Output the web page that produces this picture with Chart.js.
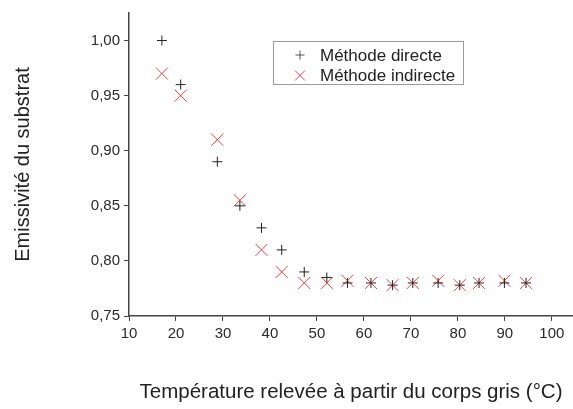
<!DOCTYPE html>
<html>
<head>
<meta charset="utf-8">
<script src="https://cdn.jsdelivr.net/npm/chart.js@4.4.0/dist/chart.umd.min.js"></script>
<style>
  body { margin: 0; background: #fff; }
  canvas { display: block; }
</style>
</head>
<body>
<canvas id="emissChart" width="573" height="409"></canvas>
<script>
// Température du corps gris (°C)
let temperatures = [17.0, 21.0, 28.8, 33.6, 38.2, 42.5, 47.3, 52.1, 56.5, 61.5, 66.1, 70.4, 75.8, 80.4, 84.5, 89.9, 94.5];
// Emissivité mesurée
let directe = [1.00, 0.96, 0.89, 0.85, 0.83, 0.81, 0.79, 0.785, 0.78, 0.78, 0.778, 0.78, 0.78, 0.778, 0.78, 0.78, 0.78];
let indirecte = [0.97, 0.95, 0.91, 0.855, 0.81, 0.79, 0.78, 0.78, 0.782, 0.78, 0.778, 0.78, 0.782, 0.778, 0.78, 0.782, 0.78];
let seriesNames = ['Méthode directe', 'Méthode indirecte'];

let redColor = 'rgb(232,64,64)';
let axisColor = '#444';

function toPoints(values) {
  return values.map(function (v, i) {
    return { x: temperatures[i], y: v };
  });
}

// legend box drawn inside the plot
let boxLegend = {
  id: 'boxLegend',
  afterDraw: function (chart) {
    let c = chart.ctx;
    c.save();
    c.strokeStyle = '#9a9a9a';
    c.lineWidth = 1;
    c.strokeRect(273.5, 41.5, 190, 43);

    // plus marker
    c.strokeStyle = '#555';
    c.beginPath();
    c.moveTo(295.5, 55);
    c.lineTo(304.5, 55);
    c.moveTo(300, 50.5);
    c.lineTo(300, 59.5);
    c.stroke();

    // cross marker
    c.strokeStyle = redColor;
    c.beginPath();
    c.moveTo(295, 70.5);
    c.lineTo(305, 80.5);
    c.moveTo(305, 70.5);
    c.lineTo(295, 80.5);
    c.stroke();

    c.fillStyle = '#222';
    c.font = '17px "Liberation Sans", Arial, sans-serif';
    c.textBaseline = 'middle';
    c.fillText(seriesNames[0], 320, 56);
    c.fillText(seriesNames[1], 320, 76);
    c.restore();
  },
};

let ctx = document.getElementById('emissChart').getContext('2d');
let emissChart = new Chart(ctx, {
  type: 'scatter',
  data: {
    datasets: [
      {
        label: seriesNames[0],
        data: toPoints(directe),
        pointStyle: 'cross',
        pointRadius: 5,
        pointBorderWidth: 1,
        borderColor: '#222',
        backgroundColor: '#222',
      },
      {
        label: seriesNames[1],
        data: toPoints(indirecte),
        pointStyle: 'crossRot',
        pointRadius: 8.5,
        pointBorderWidth: 1,
        borderColor: redColor,
        backgroundColor: redColor,
      },
    ],
  },
  options: {
    responsive: false,
    animation: false,
    devicePixelRatio: 1,
    layout: { autoPadding: false, padding: { top: 9, left: 0, right: 0, bottom: 0 } },
    plugins: {
      legend: { display: false },
      tooltip: { enabled: false },
    },
    scales: {
      x: {
        type: 'linear',
        min: 10,
        max: 104.5,
        afterFit: function (scale) {
          scale.height = 93;
        },
        ticks: {
          stepSize: 10,
          includeBounds: false,
          padding: 4,
          color: '#2a2a2a',
          font: { family: '"Liberation Sans", Arial, sans-serif', size: 15 },
        },
        grid: { drawOnChartArea: false, drawTicks: true, tickLength: 5, color: axisColor },
        border: { display: true, color: axisColor, width: 1.5 },
        title: {
          display: true,
          text: 'Température relevée à partir du corps gris (°C)',
          color: '#222',
          font: { family: '"Liberation Sans", Arial, sans-serif', size: 20.5 },
          padding: { top: 0, bottom: 4 },
        },
      },
      y: {
        type: 'linear',
        min: 0.75,
        max: 1.025,
        afterFit: function (scale) {
          scale.width = 129;
        },
        ticks: {
          stepSize: 0.05,
          includeBounds: false,
          padding: 4,
          color: '#2a2a2a',
          font: { family: '"Liberation Sans", Arial, sans-serif', size: 15 },
          callback: function (v) {
            return v.toFixed(2).replace('.', ',');
          },
        },
        grid: { drawOnChartArea: false, drawTicks: true, tickLength: 5, color: axisColor },
        border: { display: true, color: axisColor, width: 1.5 },
        title: {
          display: true,
          text: 'Emissivité du substrat',
          color: '#222',
          font: { family: '"Liberation Sans", Arial, sans-serif', size: 20 },
          padding: { top: 11, bottom: 0 },
        },
      },
    },
  },
  plugins: [boxLegend],
});
</script>
</body>
</html>
